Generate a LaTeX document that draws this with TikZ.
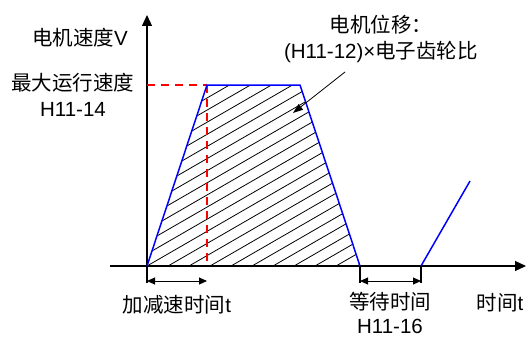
\documentclass[tikz,border=0pt]{standalone}
\usepackage{fontspec}
\setmainfont{Liberation Sans}
\newfontfamily\cjk{Noto Sans CJK SC}
\usetikzlibrary{arrows.meta}

\begin{document}
\begin{tikzpicture}[
  x=1pt, y=1pt,
  axis/.style={-{Triangle[length=11pt, width=10pt]}, line width=1.2pt},
  curve/.style={blue, line width=1.5pt},
  guide/.style={draw=red, dash pattern=on 8pt off 6pt, line width=1.1pt},
  hatch/.style={line width=0.8pt},
  tick/.style={line width=1.1pt},
  dim/.style={{Triangle[length=8pt, width=7pt]}-{Triangle[length=8pt, width=7pt]}, line width=0.9pt},
  note/.style={-{Triangle[length=10pt, width=7pt]}, line width=0.8pt},
  lbl/.style={font=\fontsize{20.5}{26}\selectfont, inner sep=0pt, align=center},
]
\useasboundingbox (-147,-72) rectangle (379,266);

% axes
\coordinate (O)  at (0,0);
\coordinate (x0) at (-37,0);
\coordinate (x1) at (379,0);
\coordinate (y0) at (0,-17);
\coordinate (y1) at (0,251);
\draw[axis] (x0) -- (x1);
\draw[axis] (y0) -- (y1);

% speed profile
\coordinate (A) at (60,181);
\coordinate (B) at (153,181);
\coordinate (C) at (213,0);
\coordinate (D) at (274,0);
\coordinate (E) at (323,85);
\coordinate (A0) at (60,0);
\coordinate (V) at (0,181);

\begin{scope}
  \clip (O) -- (A) -- (B) -- (C) -- cycle;
  \foreach \k in {-13,...,10}
    \draw[hatch] (21*\k,0) -- ++(30:420);
\end{scope}

\draw[guide] (V) -- (A);
\draw[guide] (A) -- (A0);
\draw[curve] (O) -- (A) -- (B) -- (C);
\draw[curve] (D) -- (E);

% time spans
\coordinate (C1) at (213,-17);
\coordinate (D1) at (274,-17);
\draw[tick] (C) -- (C1);
\draw[tick] (D) -- (D1);
\draw[dim] (0,-15) -- (60,-15);
\draw[dim] (213,-15) -- (274,-15);

% labels
\node[lbl] at (-67,228) (vlabel) {{\cjk 电机速度}V};
\node[lbl] at (-74,171) (vmax)   {{\cjk 最大运行速度}\\H11-14};
\node[lbl] at (234,227) (disp)   {{\cjk 电机位移：}\\(H11-12)×{\cjk 电子齿轮比}};
\node[lbl] at (30,-39)  (tacc)   {{\cjk 加减速时间}t};
\node[lbl, font=\fontsize{20.5}{24}\selectfont] at (243,-47) (twait) {{\cjk 等待时间}\\H11-16};
\node[lbl] at (353,-37) (tlabel) {{\cjk 时间}t};

\coordinate (P) at (146,153);
\draw[note] (198,194) -- (P);
\end{tikzpicture}
\end{document}
